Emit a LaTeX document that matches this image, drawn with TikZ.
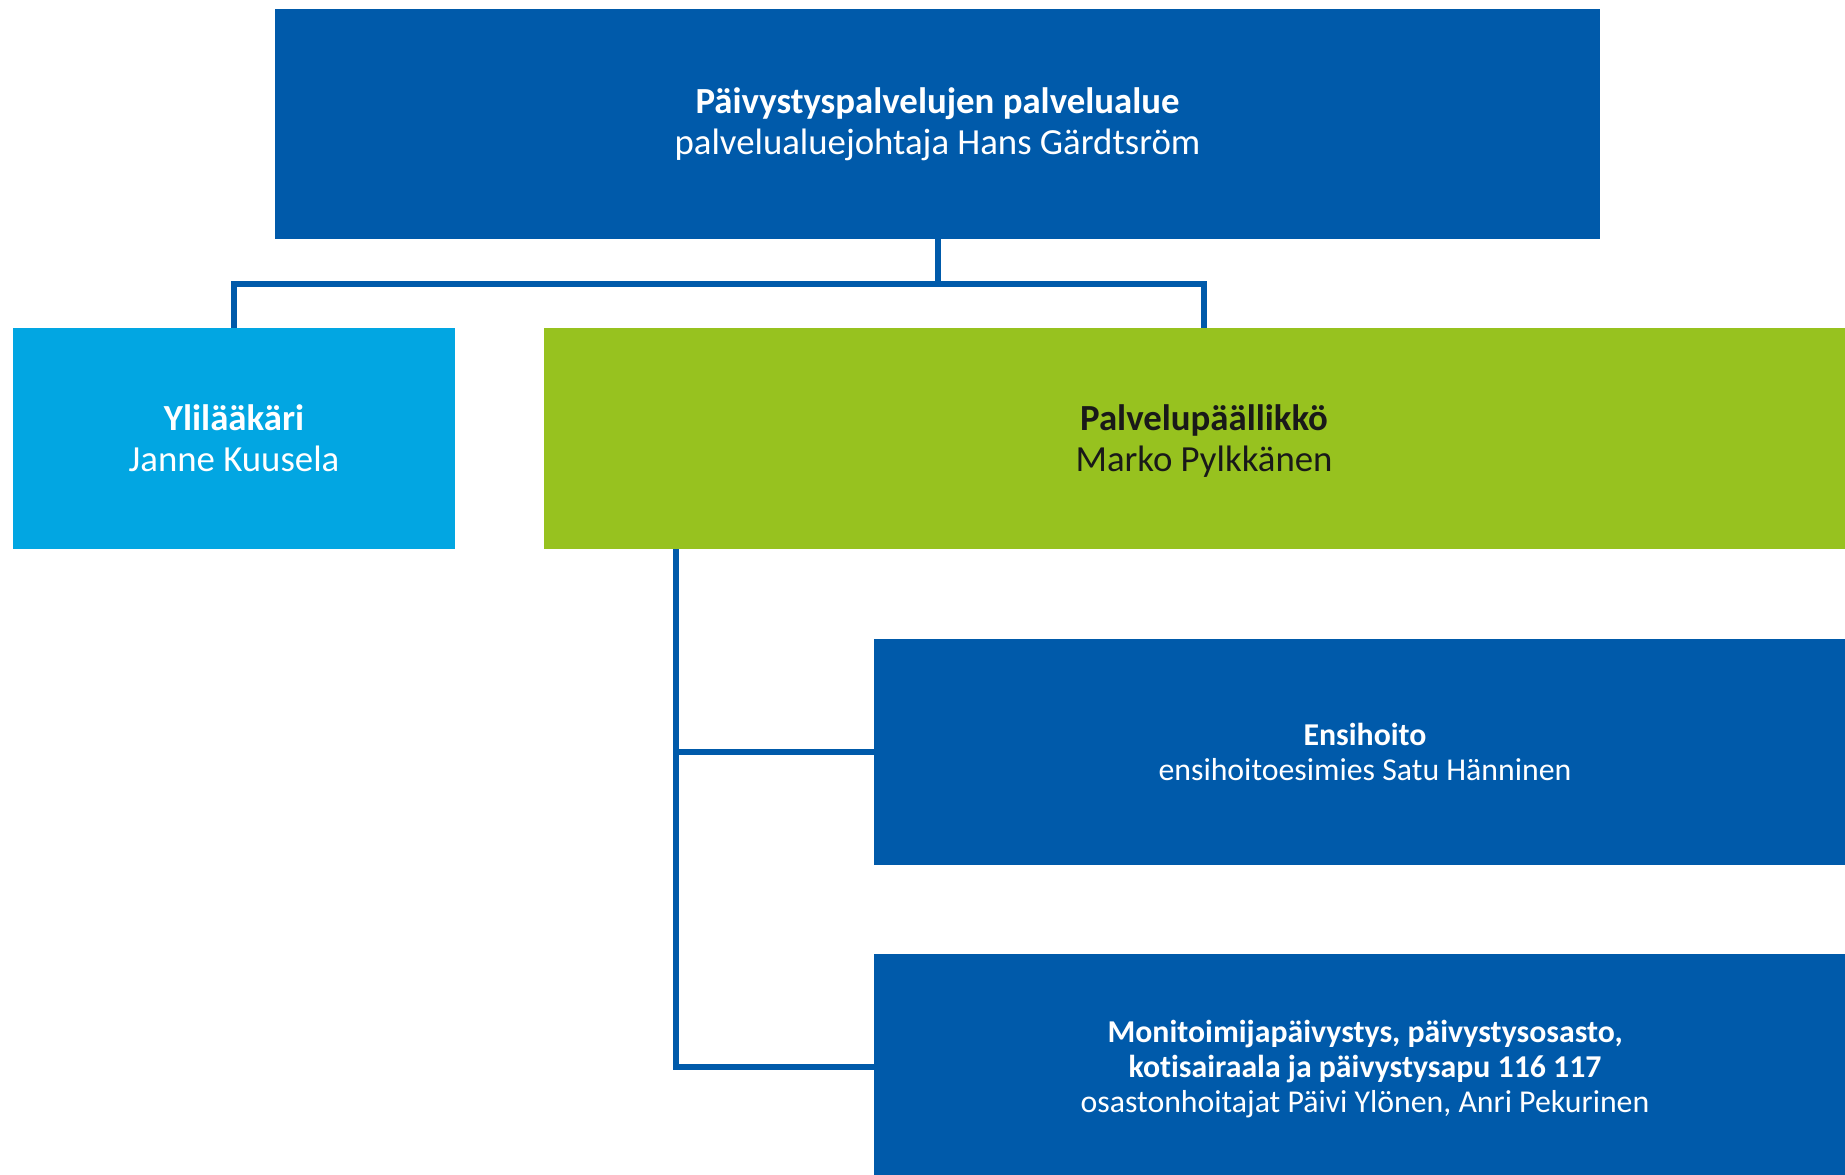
\documentclass[tikz,border=0pt]{standalone}
\usepackage{fontspec}
\setmainfont{Carlito}[Ligatures=NoCommon]
\usepackage{tikz}
\usetikzlibrary{positioning}

\definecolor{darkblue}{RGB}{0,90,170}
\definecolor{lightblue}{RGB}{2,166,226}
\definecolor{limegreen}{RGB}{151,194,31}

\tikzset{
  orgbox/.style={rectangle, draw=none, inner sep=0pt, align=center, text=white},
  bigtext/.style={font=\fontsize{36.8}{41}\selectfont},
  smalltext/.style={font=\fontsize{31.8}{35}\selectfont},
  conn/.style={draw=darkblue, line width=5.5pt}
}

\begin{document}
\begin{tikzpicture}[x=1pt,y=1pt,yscale=-1]
\useasboundingbox (0,0) rectangle (1845,1175);

%Shape: Rectangle [id:top]
\node [orgbox, bigtext, fill=darkblue, minimum width=1325, minimum height=230] (top) at (937.5,124)
  {\textbf{Päivystyspalvelujen palvelualue}\\palvelualuejohtaja Hans Gärdtsröm};
%Shape: Rectangle [id:yli]
\node [orgbox, bigtext, fill=lightblue, minimum width=442, minimum height=221] (yli) at (234,438.5)
  {\textbf{Ylilääkäri}\\Janne Kuusela};
%Shape: Rectangle [id:palv]
\node [orgbox, bigtext, fill=limegreen, text=black!90, text depth=0pt, minimum width=1320, minimum height=221] (palv) at (1204,438.5)
  {\textbf{Palvelupäällikkö}\\Marko Pylkkänen};
%Shape: Rectangle [id:ensi]
\node [orgbox, smalltext, fill=darkblue, minimum width=982, minimum height=226] (ensi) at (1365,752)
  {\textbf{Ensihoito}\\ensihoitoesimies Satu Hänninen};
%Shape: Rectangle [id:moni]
\node [orgbox, smalltext, fill=darkblue, minimum width=982, minimum height=231] (moni) at (1365,1069.5)
  {\textbf{Monitoimijapäivystys, päivystysosasto,}\\\textbf{kotisairaala ja päivystysapu 116 117}\\osastonhoitajat Päivi Ylönen, Anri Pekurinen};

%Straight Lines [id:split]
\coordinate (split) at (938,284);
\draw [conn] (top.south -| split) -- (split);
\draw [conn] (split) -| (yli.north);
\draw [conn] (split) -| (palv.north);

%Straight Lines [id:trunk]
\coordinate (trunk) at (676,549);
\draw [conn] (trunk) |- (ensi.west);
\draw [conn] (trunk) |- ([yshift=-2.5]moni.west);

\end{tikzpicture}
\end{document}
